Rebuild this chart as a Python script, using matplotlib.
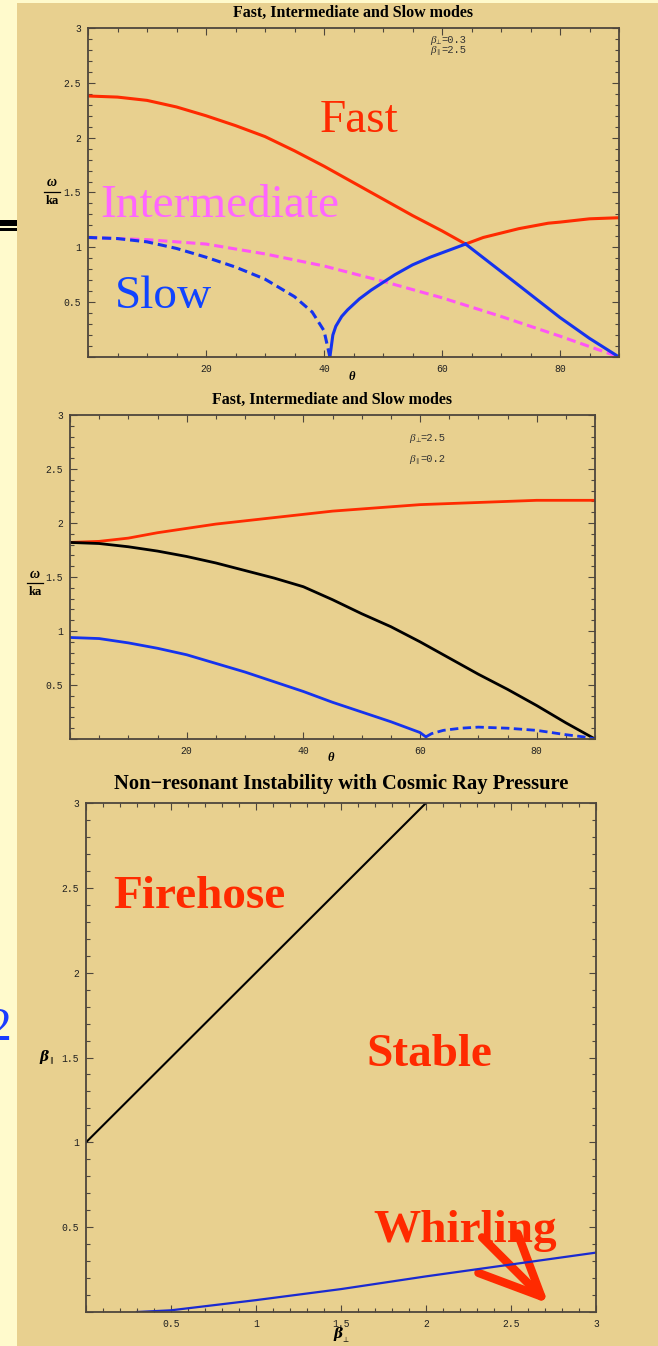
import matplotlib
matplotlib.use("Agg")
import matplotlib.pyplot as plt
from matplotlib.patches import Rectangle, FancyArrowPatch
from matplotlib.lines import Line2D
from matplotlib.ticker import MultipleLocator

W, H = 658, 1346
TAN = '#E8D08F'
STRIP = '#FFFACC'
RED = '#FF2A00'
BLUE = '#1533EE'
MAGENTA = '#FF55F5'
FRAME = '#4e463c'

# --- panel 1: beta_perp = 0.3, beta_par = 2.5
fast1_th = [0, 5, 10, 15, 20, 25, 30, 35, 40, 45, 50, 55, 60, 64]
fast1_w = [2.38, 2.37, 2.34, 2.28, 2.20, 2.11, 2.01, 1.88, 1.74, 1.59, 1.44, 1.29, 1.15, 1.03]
upper1_th = [64, 65, 67, 70, 73, 75, 78, 80, 85, 90]
upper1_w = [1.03, 1.05, 1.09, 1.13, 1.17, 1.19, 1.22, 1.23, 1.26, 1.27]
slowd1_th = [0, 5, 10, 15, 20, 25, 30, 35, 38, 40, 41]
slowd1_w = [1.09, 1.08, 1.05, 0.99, 0.91, 0.82, 0.71, 0.55, 0.41, 0.24, 0.0]
rise1_th = [41, 41.5, 42, 43, 44, 46, 48, 50, 52, 55, 58, 61, 64]
rise1_w = [0.0, 0.2, 0.28, 0.37, 0.43, 0.53, 0.61, 0.68, 0.75, 0.84, 0.91, 0.97, 1.03]
fall1_th = [64, 70, 75, 80, 85, 90]
fall1_w = [1.03, 0.78, 0.57, 0.36, 0.17, 0.0]
inter1_th = [0, 10, 20, 30, 40, 50, 60, 70, 80, 90]
inter1_w = [1.09, 1.07, 1.03, 0.94, 0.83, 0.69, 0.54, 0.37, 0.19, 0.0]

# --- panel 2: beta_perp = 2.5, beta_par = 0.2
red2_th = [0, 5, 10, 15, 20, 25, 30, 35, 40, 45, 50, 55, 60, 65, 70, 75, 80, 85, 90]
red2_w = [1.82, 1.83, 1.86, 1.91, 1.95, 1.99, 2.02, 2.05, 2.08, 2.11, 2.13, 2.15, 2.17,
          2.18, 2.19, 2.20, 2.21, 2.21, 2.21]
blk2_th = [0, 5, 10, 15, 20, 25, 30, 35, 40, 45, 50, 55, 60, 65, 70, 75, 80, 85, 90]
blk2_w = [1.82, 1.81, 1.78, 1.74, 1.69, 1.63, 1.56, 1.49, 1.41, 1.29, 1.16, 1.04, 0.90,
          0.75, 0.60, 0.46, 0.31, 0.15, 0.0]
blu2_th = [0, 5, 10, 15, 20, 25, 30, 35, 40, 45, 50, 55, 58, 60, 61]
blu2_w = [0.94, 0.93, 0.89, 0.84, 0.78, 0.70, 0.62, 0.53, 0.44, 0.34, 0.25, 0.16, 0.10, 0.06, 0.02]
blud2_th = [61, 62, 64, 67, 70, 75, 80, 85, 88, 90]
blud2_w = [0.02, 0.05, 0.08, 0.10, 0.11, 0.10, 0.08, 0.04, 0.02, 0.0]

# --- panel 3: stability boundaries
fire_bperp = [0.0, 2.0]
fire_bpar = [1.0, 3.0]
whirl_bperp = [0.3, 0.5, 0.75, 1.0, 1.5, 2.0, 2.5, 3.0]
whirl_bpar = [0.0, 0.01, 0.04, 0.07, 0.135, 0.21, 0.28, 0.35]

plt.rcParams['font.family'] = ['Liberation Serif', 'DejaVu Serif']

fig = plt.figure(figsize=(W / 100, H / 100), dpi=100)
fig.patch.set_facecolor(STRIP)
fig.patches.append(Rectangle((17 / W, 0), 1 - 17 / W, 1 - 3 / H, transform=fig.transFigure,
                             facecolor=TAN, edgecolor='none', zorder=-10))
# bits of slide content showing on the left margin
fig.patches.append(Rectangle((0, 1 - 226 / H), 17 / W, 6 / H, transform=fig.transFigure,
                             facecolor='black', edgecolor='none'))
fig.patches.append(Rectangle((0, 1 - 231 / H), 17 / W, 3 / H, transform=fig.transFigure,
                             facecolor='black', edgecolor='none'))
fig.text(-12 / W, 1 - 1040 / H, '2', color='#1a3cff', fontsize=34, ha='left', va='baseline')


def fx(px):
    return px / W


def fy(py):
    return 1 - py / H


def make_axes(l, t, r, b, xmaj, xmin, ymaj, ymin, xlim, ylim, xfmt):
    ax = fig.add_axes([fx(l), fy(b), fx(r - l), (b - t) / H])
    ax.set_facecolor('none')
    ax.set_xlim(*xlim)
    ax.set_ylim(*ylim)
    ax.xaxis.set_major_locator(MultipleLocator(xmaj))
    ax.xaxis.set_minor_locator(MultipleLocator(xmin))
    ax.yaxis.set_major_locator(MultipleLocator(ymaj))
    ax.yaxis.set_minor_locator(MultipleLocator(ymin))
    ax.xaxis.set_major_formatter(xfmt)
    ax.yaxis.set_major_formatter(lambda v, p: '' if v == 0 else ('%g' % v))
    ax.tick_params(which='both', direction='in', top=True, right=True, color=FRAME,
                   width=0.8, labelsize=7, labelcolor='#222222')
    ax.tick_params(which='major', length=5, pad=5)
    ax.tick_params(which='minor', length=3)
    for lab in ax.get_xticklabels() + ax.get_yticklabels():
        lab.set_family('Liberation Mono')
    for s in ax.spines.values():
        s.set_color(FRAME)
        s.set_linewidth(1.3)
    return ax


def ang_fmt(v, p):
    return '' if v == 0 else '%d' % v


def omega_label(cx, y_om, y_bar, y_ka):
    fig.text(fx(cx), fy(y_om), 'ω', fontsize=10, fontweight='bold', style='italic',
             ha='center', va='center')
    fig.add_artist(Line2D([fx(cx - 8), fx(cx + 8)], [fy(y_bar), fy(y_bar)], color='black', lw=0.9))
    fig.text(fx(cx), fy(y_ka), 'ka', fontsize=9, fontweight='bold', ha='center', va='center')


def beta_note(x, y, sub, val):
    # italic beta, tiny subscript, then the value in typewriter face
    fig.text(fx(x), fy(y), 'β', fontsize=8, style='italic', color='#333333', va='baseline')
    fig.text(fx(x + 6), fy(y + 1), sub, fontsize=4.5, color='#333333', va='baseline',
             family='DejaVu Sans')
    fig.text(fx(x + 11), fy(y), '=' + val, fontsize=7.5, color='#333333', va='baseline',
             family='Liberation Mono')


# panel 1
ax1 = make_axes(88, 28, 619, 357, 20, 5, 0.5, 0.1, (0, 90), (0, 3), ang_fmt)
ax1.plot(fast1_th, fast1_w, color=RED, lw=2.2)
ax1.plot(upper1_th, upper1_w, color=RED, lw=2.2)
ax1.plot(inter1_th, inter1_w, color=MAGENTA, lw=2.2, dashes=(3, 1.6))
ax1.plot(slowd1_th, slowd1_w, color=BLUE, lw=2.2, dashes=(3, 1.6))
ax1.plot(rise1_th, rise1_w, color=BLUE, lw=2.2)
ax1.plot(fall1_th, fall1_w, color=BLUE, lw=2.2)
ax1.text(39.3, 2.05, 'Fast', color=RED, fontsize=34, ha='left', va='baseline')
ax1.text(2.0, 1.28, 'Intermediate', color='#FF66FF', fontsize=34, ha='left', va='baseline')
ax1.text(4.6, 0.45, 'Slow', color='#1144FF', fontsize=34, ha='left', va='baseline')
fig.text(fx(353), fy(17), 'Fast, Intermediate and Slow modes', fontsize=11.5,
         fontweight='bold', ha='center', va='baseline')
beta_note(430, 43, '\u22a5', '0.3')
beta_note(430, 53, '\u2225', '2.5')
omega_label(52, 182, 192, 201)
fig.text(fx(352), fy(377), 'θ', fontsize=9, fontweight='bold', style='italic',
         ha='center', va='center')

# panel 2
ax2 = make_axes(70, 415, 595, 739, 20, 5, 0.5, 0.1, (0, 90), (0, 3), ang_fmt)
ax2.plot(red2_th, red2_w, color=RED, lw=2.0)
ax2.plot(blk2_th, blk2_w, color='black', lw=2.0)
ax2.plot(blu2_th, blu2_w, color=BLUE, lw=2.0)
ax2.plot(blud2_th, blud2_w, color=BLUE, lw=2.0, dashes=(3, 1.6))
fig.text(fx(332), fy(404), 'Fast, Intermediate and Slow modes', fontsize=11.5,
         fontweight='bold', ha='center', va='baseline')
beta_note(409, 441, '\u22a5', '2.5')
beta_note(409, 462, '\u2225', '0.2')
omega_label(35, 575, 583, 592)
fig.text(fx(331), fy(758), 'θ', fontsize=9, fontweight='bold', style='italic',
         ha='center', va='center')

# panel 3
ax3 = make_axes(86, 803, 596, 1312, 0.5, 0.1, 0.5, 0.1, (0, 3), (0, 3),
                lambda v, p: '' if v == 0 else '%g' % v)
ax3.plot(fire_bperp, fire_bpar, color='black', lw=1.5)
ax3.plot(whirl_bperp, whirl_bpar, color='#1a2ad0', lw=1.6)
ax3.text(0.16, 2.38, 'Firehose', color=RED, fontsize=34, fontweight='bold', va='baseline')
ax3.text(1.65, 1.45, 'Stable', color=RED, fontsize=34, fontweight='bold', va='baseline')
ax3.text(1.69, 0.41, 'Whirling', color=RED, fontsize=34, fontweight='bold', va='baseline')
arrow = FancyArrowPatch((2.33, 0.44), (2.72, 0.05),
                        arrowstyle='->,head_length=2.2,head_width=1.0',
                        mutation_scale=20, color=RED, lw=6, capstyle='round',
                        joinstyle='round', shrinkA=0, shrinkB=0)
ax3.add_patch(arrow)
fig.text(fx(341), fy(789), 'Non\u2212resonant Instability with Cosmic Ray Pressure',
         fontsize=14.8, fontweight='bold', ha='center', va='baseline')
fig.text(fx(44), fy(1057), 'β', fontsize=10, fontweight='bold', style='italic',
         ha='center', va='center', family='DejaVu Serif')
fig.text(fx(51), fy(1060), '\u2225', fontsize=5, ha='center', va='center', family='DejaVu Sans')
fig.text(fx(338), fy(1334), 'β', fontsize=10, fontweight='bold', style='italic',
         ha='center', va='center', family='DejaVu Serif')
fig.text(fx(345), fy(1340), '\u22a5', fontsize=5, ha='center', va='center', family='DejaVu Sans')

fig.savefig('out.png', dpi=100, facecolor=fig.get_facecolor())
